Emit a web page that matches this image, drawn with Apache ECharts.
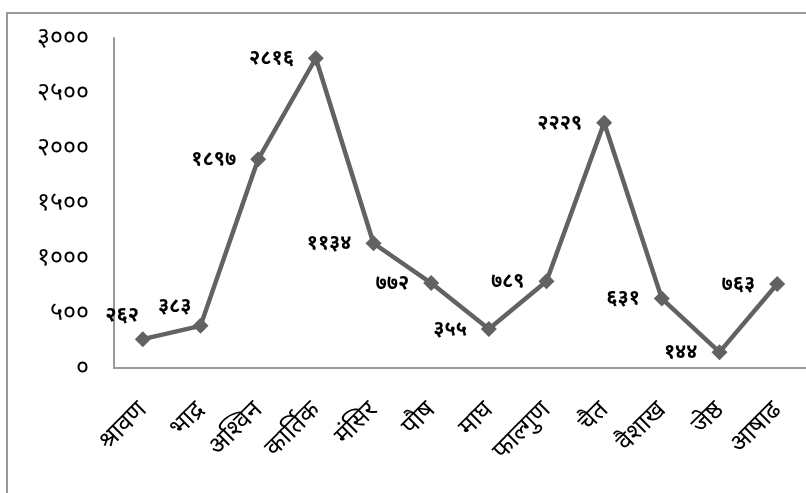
<!DOCTYPE html>
<html><head><meta charset="utf-8">
<script src="https://cdn.jsdelivr.net/npm/echarts@6/dist/echarts.min.js"></script>
<style>html,body{margin:0;padding:0;background:#fff}#c{width:806px;height:493px}</style>
</head><body><div id="c"></div>
<script>
const categories = ['श्रावण','भाद्र','अश्विन','कार्तिक','मंसिर','पौष','माघ','फाल्गुण','चैत','वैशाख','जेष्ठ','आषाढ'];
const values = [262, 383, 1897, 2816, 1134, 772, 355, 789, 2229, 631, 144, 763];
const yTicks = [0, 500, 1000, 1500, 2000, 2500, 3000];

const dev = '०१२३४५६७८९';
function toDev(n){ return String(n).replace(/[0-9]/g, d => dev[+d]); }

const chart = echarts.init(document.getElementById('c'));
chart.setOption({
  animation: false,
  graphic: [{type:'rect', shape:{x:7, y:13, width:900, height:600}, style:{fill:'none', stroke:'#9a9a9a', lineWidth:2}, z:-1}],
  grid: {left: 114, right: -1, top: 38, bottom: 125},
  xAxis: {
    type: 'category', data: categories, boundaryGap: true,
    axisLine: {lineStyle: {color: '#999', width: 2}},
    axisTick: {show: false},
    axisLabel: {rotate: 45, margin: 38, color: '#000', fontSize: 25, fontFamily: 'Noto Sans, sans-serif', interval: 0}
  },
  yAxis: {
    type: 'value', min: yTicks[0], max: yTicks[yTicks.length-1], interval: 500,
    axisLine: {show: true, lineStyle: {color: '#999', width: 2}},
    axisTick: {show: false},
    splitLine: {show: false},
    axisLabel: {margin: 25, color: '#000', fontSize: 25, fontFamily: 'Noto Sans, sans-serif', formatter: v => toDev(v)}
  },
  series: [{
    type: 'line', data: values,
    lineStyle: {color: '#626262', width: 4.5},
    itemStyle: {color: '#626262'},
    symbol: 'diamond', symbolSize: 16,
    label: {
      show: true, position: 'left', distance: 14, color: '#000', fontWeight: 'bold', fontSize: 20,
      fontFamily: 'Noto Sans, sans-serif',
      formatter: p => toDev(p.value)
    },
    labelLayout: function(params){
      if (params.dataIndex === 0) return {dx: 18, dy: -24};
      if (params.dataIndex === 1) return {dx: 13, dy: -20};
      return {};
    }
  }]
});
</script></body></html>
